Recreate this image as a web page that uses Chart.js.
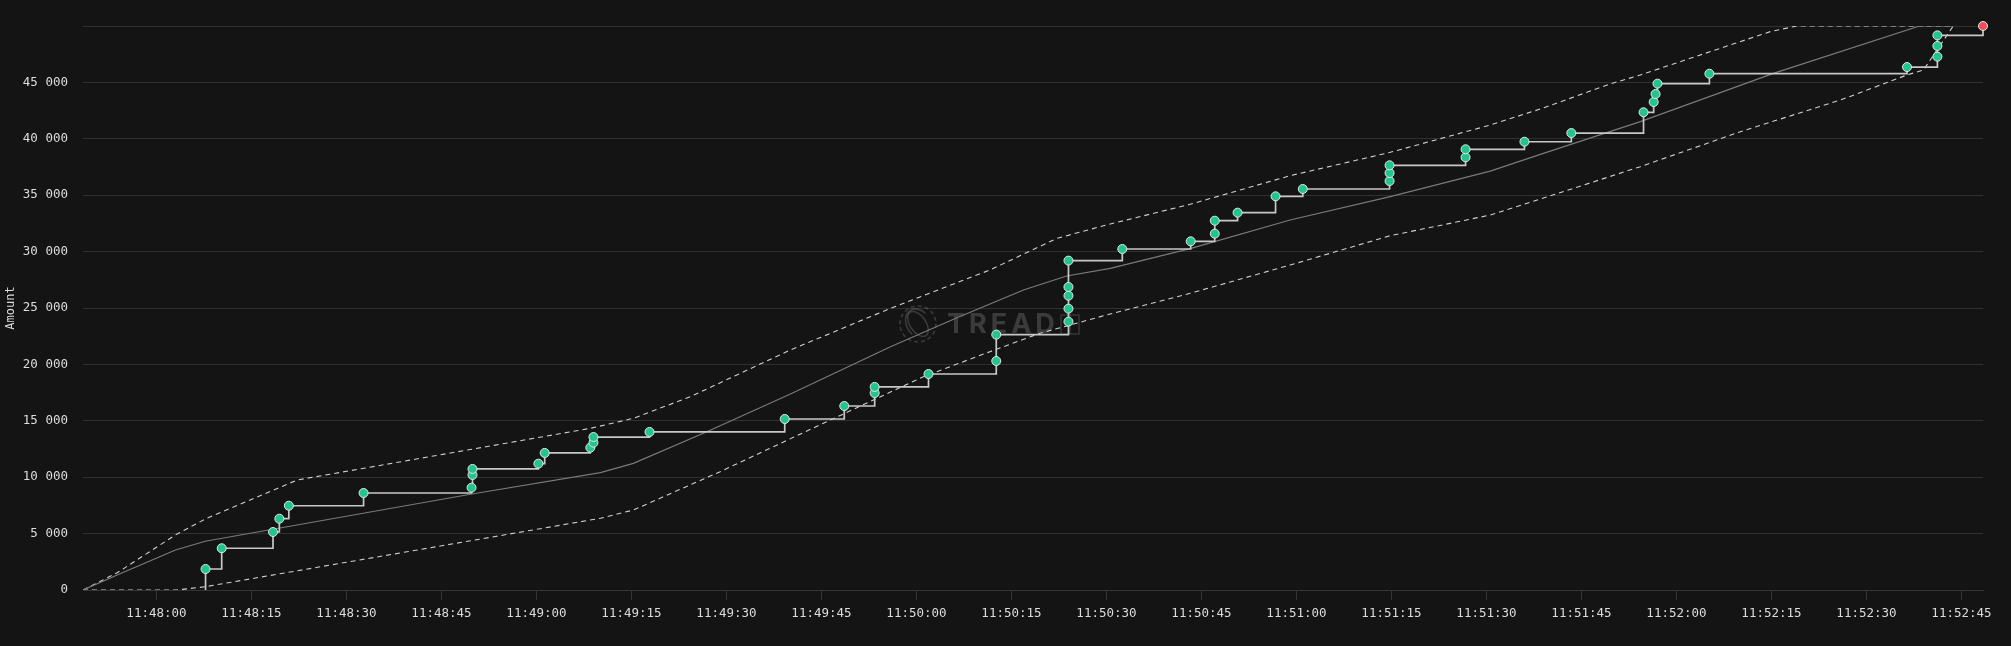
<!DOCTYPE html>
<html><head><meta charset="utf-8">
<script src="https://cdn.jsdelivr.net/npm/chart.js@4.4.1/dist/chart.umd.min.js"></script>
<style>html,body{margin:0;padding:0;background:#141414;overflow:hidden}
#wrap{width:2011px;height:646px;position:relative}</style></head>
<body><div id="wrap"><canvas id="c" width="2011" height="646"></canvas></div>
<script>
// ---- data (times are seconds after BASE_TIME) ----
const BASE_TIME = '11:48:00';
const X_MIN = -11.6, X_MAX = 288.4;
const tickLabels = ['11:48:00','11:48:15','11:48:30','11:48:45','11:49:00','11:49:15','11:49:30','11:49:45','11:50:00','11:50:15','11:50:30','11:50:45','11:51:00','11:51:15','11:51:30','11:51:45','11:52:00','11:52:15','11:52:30','11:52:45'];
const yTicks = [0,5000,10000,15000,20000,25000,30000,35000,40000,45000,50000];

const bidTimes   = [7.75,10.3,18.4,19.4,20.9,32.7,49.75,49.9,49.9,60.3,61.3,68.5,69.0,69.0,77.85,99.2,108.6,113.4,113.4,121.9,132.6,132.6,144.0,144.0,144.0,144.0,144.0,152.5,163.3,167.1,167.1,170.7,176.7,181.0,194.7,194.7,194.7,206.7,206.7,216.0,223.4,234.8,236.4,236.7,237.0,245.2,276.4,281.2,281.2,281.2];
const bidAmounts = [1860,3700,5140,6320,7470,8600,9070,10200,10730,11200,12150,12620,13060,13560,14010,15160,16310,17460,18000,19150,20300,22640,23790,24940,26090,26860,29200,30230,30910,31590,32740,33450,34900,35550,36260,36970,37650,38360,39070,39740,40510,42350,43260,43970,44890,45770,46360,47280,48230,49170];
const finalTime = 288.4, finalAmount = 50000;

const midTimes  = [-11.6,-6.2,3.0,7.7,49.8,70.1,75.3,86.9,100.1,115.9,126.4,136.9,143.7,150.6,163.2,179.0,194.8,210.6,218.5,234.3,255.3,278.4,283.7];
const midValues = [0,1330,3550,4320,8510,10400,11230,14030,17380,21570,24140,26600,27840,28520,30260,32800,34870,37140,38620,41520,45800,50000,50000];

const upperTimes  = [-11.6,-6.2,3.0,7.7,22.2,68.5,75.3,84.3,100.1,115.9,131.6,142.2,150.6,163.2,179.0,194.8,210.6,218.5,229.5,234.3,254.8,259.0,283.7];
const upperValues = [0,1530,4880,6290,9750,14330,15220,17140,21280,24970,28370,31180,32450,34190,36730,38800,41220,42640,44860,45660,49500,50000,50000];

const lowerTimes  = [-11.6,3.2,7.7,70.1,75.3,89.0,105.3,121.1,131.6,139.5,150.6,163.2,179.0,194.8,210.6,218.5,234.3,250.1,265.9,276.4,279.0,283.7];
const lowerValues = [0,0,290,6360,7090,10490,14780,18910,21130,22760,24470,26300,28810,31410,33240,34660,37530,40630,43440,45660,46100,50000];

// ---- helpers ----
function clockToSec(s){const p=s.split(':').map(Number);return p[0]*3600+p[1]*60+p[2];}
const baseSec = clockToSec(BASE_TIME);
function secToClock(t){let s=Math.round(baseSec+t);const h=Math.floor(s/3600);s-=h*3600;const m=Math.floor(s/60);s-=m*60;return [h,m,s].map(v=>String(v).padStart(2,'0')).join(':');}
const pts=(xs,ys)=>xs.map((x,i)=>({x,y:ys[i]}));
const fmt=v=>String(v).replace(/\B(?=(\d{3})+(?!\d))/g,' ');

const GREEN='#22c68d', RED='#ef4f5a';
const stepData=[{x:bidTimes[0],y:0}].concat(pts(bidTimes,bidAmounts)).concat([{x:finalTime,y:finalAmount}]);
const n=stepData.length;
const radii=stepData.map((_,i)=>i===0?0:4.5);
const fills=stepData.map((_,i)=>i===n-1?RED:GREEN);

const FONT='"DejaVu Sans Mono", "Liberation Mono", monospace';
const TXT='#dcdcdc';

const bgPlugin={id:'bg',beforeDraw(c){const x=c.ctx;x.save();x.fillStyle='#141414';x.fillRect(0,0,c.width,c.height);x.restore();}};
const wmPlugin={id:'wm',beforeDatasetsDraw(c){
  const ctx=c.ctx, a=c.chartArea;
  const cx=(a.left+a.right)/2-115, cy=(a.top+a.bottom)/2+16;
  ctx.save();
  ctx.strokeStyle='rgba(255,255,255,0.17)';ctx.lineWidth=1.6;
  ctx.setLineDash([4,3]);
  ctx.beginPath();ctx.arc(cx,cy,18,0,Math.PI*2);ctx.stroke();
  ctx.setLineDash([]);
  ctx.beginPath();ctx.ellipse(cx,cy,8,14,-0.6,0,Math.PI*2);ctx.stroke();
  ctx.beginPath();ctx.ellipse(cx+1,cy,12,16,-0.6,Math.PI*0.9,Math.PI*1.9);ctx.stroke();
  ctx.fillStyle='rgba(255,255,255,0.17)';
  ctx.font='bold 27px Inter, "Open Sans", sans-serif';
  ctx.textBaseline='middle';
  try{ctx.letterSpacing='4px';}catch(e){}
  ctx.fillText('TREAD',cx+29,cy+1);
  ctx.letterSpacing='0px';
  ctx.lineWidth=1.3;
  ctx.strokeRect(cx+143,cy-9,18,19);
  ctx.beginPath();ctx.moveTo(cx+152,cy-9);ctx.lineTo(cx+152,cy+10);ctx.stroke();
  ctx.restore();
}};

new Chart(document.getElementById('c'),{
  type:'line',
  data:{datasets:[
    {label:'bids',data:stepData,stepped:true,borderColor:'#c8c8c8',borderWidth:1.7,clip:false,
     pointRadius:radii,pointHoverRadius:radii,pointBackgroundColor:fills,pointBorderColor:'#e6e6e6',pointBorderWidth:1,order:0},
    {label:'expected',data:pts(midTimes,midValues),borderColor:'#7a7a7a',borderWidth:1.2,pointRadius:0,tension:0,order:1},
    {label:'upper',data:pts(upperTimes,upperValues),borderColor:'#d0d0d0',borderWidth:1.1,borderDash:[5,4],pointRadius:0,tension:0,order:2},
    {label:'lower',data:pts(lowerTimes,lowerValues),borderColor:'#d0d0d0',borderWidth:1.1,borderDash:[5,4],pointRadius:0,tension:0,order:3}
  ]},
  options:{
    responsive:false,animation:false,devicePixelRatio:1,
    layout:{padding:{top:26,right:28,left:0,bottom:0}},
    plugins:{legend:{display:false},tooltip:{enabled:false}},
    scales:{
      x:{type:'linear',min:X_MIN,max:X_MAX,
        afterBuildTicks(s){s.ticks=tickLabels.map(l=>({value:clockToSec(l)-baseSec}));},
        afterFit(s){s.height=56;},
        ticks:{autoSkip:false,maxRotation:0,color:TXT,font:{family:FONT,size:12.5},padding:6,
          callback:(v)=>secToClock(v)},
        grid:{drawOnChartArea:false,drawTicks:true,tickLength:10,color:'#353535'},
        border:{color:'#353535'}},
      y:{type:'linear',min:0,max:50000,
        afterBuildTicks(s){s.ticks=yTicks.map(v=>({value:v}));},
        afterFit(s){s.width=83;},
        ticks:{color:TXT,font:{family:FONT,size:12.5},padding:15,
          callback:(v)=>v===50000?'':fmt(v)},
        grid:{drawTicks:false,color:'#303030'},
        border:{display:false},
        title:{display:true,text:'Amount',color:TXT,font:{family:FONT,size:12}}}
    }
  },
  plugins:[bgPlugin,wmPlugin]
});
</script></body></html>
